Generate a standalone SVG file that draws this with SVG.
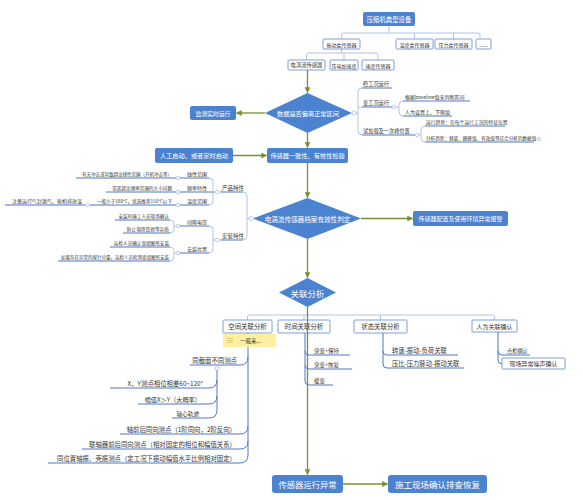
<svg xmlns="http://www.w3.org/2000/svg" width="583" height="500" viewBox="0 0 583 500">
<defs>
<marker id="arr" viewBox="0 0 10 10" refX="9" refY="5" markerWidth="4.5" markerHeight="4.5" orient="auto"><path d="M0,0 L10,5 L0,10 z" fill="#7a8f2e"/></marker>
</defs>
<style>
text{font-family:"Noto Sans CJK SC","Noto Sans",sans-serif;}
.bn{fill:#4b83d0;}
.wt{fill:#fff;text-anchor:middle;dominant-baseline:central;}
.ob{fill:#fff;stroke:#7d9fd6;stroke-width:1;}
.bt{fill:#333;text-anchor:middle;dominant-baseline:central;}
.arrow{stroke:#7a8f2e;stroke-width:1.3;fill:none;marker-end:url(#arr);}
.con{stroke:#a9bde0;stroke-width:0.9;fill:none;}
.ul{stroke:#5079c2;stroke-width:1;fill:none;}
.mt{fill:#333;}
.e{text-anchor:end;}
.dot{fill:#fff;stroke:#9fb6dc;stroke-width:0.7;}
</style>
<rect width="583" height="500" fill="#fff"/>

<g id="connectors">
<path class="con" d="M389,26 V33 M341.5,39 V35 Q341.5,33 343.5,33 H478 Q480,33 480,35 V39 M414.5,33 V39 M453.5,33 V39"/>
<path class="con" d="M341.5,49 V53 M306.5,60 V55 Q306.5,53 308.5,53 H376 Q378,53 378,55 V60 M344,53 V60"/>
<path class="arrow" d="M307.5,70 V92.5"/>
<path class="arrow" d="M265,113 H236.5"/>
<path class="arrow" d="M307.5,133 V147.5"/>
<path class="arrow" d="M233,155.5 H266.5"/>
<path class="arrow" d="M307.5,163 V197.5"/>
<path class="arrow" d="M361,218.5 H412.5"/>
<path class="arrow" d="M307.5,239 V277.5"/>
<path class="con" d="M307.5,307 V315 M247.5,320 V317 Q247.5,315 249.5,315 H492.5 Q494.5,315 494.5,317 V320 M304,315 V320 M380.5,315 V320"/>
<path class="arrow" d="M343,484 H387.5"/>
</g>

<g id="n-top"><rect class="bn" x="363" y="12" width="52" height="14" rx="2"/><text class="wt" x="389" y="19" font-size="6.4">压缩机典型设备</text></g>
<g id="n-vib"><rect class="ob" x="323" y="39" width="37" height="10" rx="1"/><text class="bt" x="341.5" y="44" font-size="5">振动类传感器</text></g>
<g id="n-temp"><rect class="ob" x="396" y="39" width="37" height="10" rx="1"/><text class="bt" x="414.5" y="44" font-size="5">温度类传感器</text></g>
<g id="n-pres"><rect class="ob" x="435" y="39" width="37" height="10" rx="1"/><text class="bt" x="453.5" y="44" font-size="5">压力类传感器</text></g>
<g id="n-more"><rect class="ob" x="476" y="39" width="15" height="10" rx="1"/><text class="bt" x="483.5" y="44" font-size="5">......</text></g>
<g id="n-eddy"><rect class="ob" x="288" y="60" width="37" height="10" rx="1"/><text class="bt" x="306.5" y="65" font-size="5.3">电涡流传感器</text></g>
<g id="n-acc"><rect class="ob" x="330" y="60" width="28" height="10" rx="1"/><text class="bt" x="344" y="65" font-size="5">压电加速度</text></g>
<g id="n-vel"><rect class="ob" x="362" y="60" width="32" height="10" rx="1"/><text class="bt" x="378" y="65" font-size="5">速度传感器</text></g>

<g id="n-d1"><polygon class="bn" points="265,113 307.5,93 352,113 307.5,133"/><text class="wt" x="308" y="113" font-size="6.2">数据是否偏离正常区间</text></g>
<g id="n-monitor"><rect class="bn" x="190" y="106" width="46" height="14" rx="2"/><text class="wt" x="213" y="113" font-size="5.8">监测实时运行</text></g>

<g id="n-d1-map">
<circle class="dot" cx="354" cy="113" r="2"/>
<path class="con" d="M356,113 H358 M358,92 V131 M358,92 Q358,88 362,88 M358,107 H362 M358,131 Q358,135 362,135"/>
<path class="ul" d="M362,88 H392 M362,107 H392 M362,135 H415"/>
<text class="mt" x="363" y="86" font-size="5.2">稳工况运行</text>
<text class="mt" x="363" y="105" font-size="5.2">变工况运行</text>
<text class="mt" x="363" y="133" font-size="5.2">试加载及一次峰位置</text>
<circle class="dot" cx="394" cy="107" r="1.8"/>
<path class="con" d="M396,107 H399 M399,105 V112 M399,105 Q399,101 403,101 M399,112 Q399,116 403,116"/>
<path class="ul" d="M403,101 H470 M403,116 H452"/>
<text class="mt" x="405" y="99" font-size="5">根据baseline值来判断区间</text>
<text class="mt" x="405" y="114" font-size="5">人为设置上、下限值</text>
<circle class="dot" cx="417" cy="135" r="1.8"/>
<path class="con" d="M419,135 H421 M421,130 V138 M421,130 Q421,126 425,126 M421,138 Q421,142 425,142"/>
<path class="ul" d="M425,126 H505 M425,142 H534"/>
<text class="mt" x="426" y="124" font-size="4.8">运行趋势：在每个运行工况的特征位置</text>
<text class="mt" x="426" y="140" font-size="4.6">分析趋势：频谱、峰峰值、有效值等综合分析的数据值</text>
<circle class="dot" cx="539" cy="139" r="1.6"/>
</g>

<g id="n-start"><rect class="bn" x="155" y="148" width="78" height="15" rx="2"/><text class="wt" x="194" y="155.5" font-size="6.2">人工启动、或者定时启动</text></g>
<g id="n-check"><rect class="bn" x="267" y="148" width="81" height="15" rx="2"/><text class="wt" x="307.5" y="155.5" font-size="6.2">传感器一致性、有效性检验</text></g>

<g id="n-d2"><polygon class="bn" points="253,218.5 307.5,198 361,218.5 307.5,239"/><text class="wt" x="307.5" y="218.5" font-size="6.6">电涡流传感器档案有效性判定</text></g>
<g id="n-alarm"><rect class="bn" x="413" y="211" width="95" height="15" rx="2"/><text class="wt" x="460.5" y="218.5" font-size="6">传感器配置及使用环境异常报警</text></g>

<g id="n-d2-map">
<circle class="dot" cx="251" cy="218.5" r="2"/>
<path class="con" d="M249,218.5 H247 M247,196 V236 M247,196 Q247,192 243,192 M247,236 Q247,240 243,240"/>
<path class="ul" d="M243,192 H220 M243,240 H220"/>
<text class="mt" x="222" y="190" font-size="5.5">产品特性</text>
<text class="mt" x="222" y="238" font-size="5.5">安装特性</text>
<circle class="dot" cx="217" cy="192" r="1.8"/>
<circle class="dot" cx="217" cy="240" r="1.8"/>
<path class="con" d="M215,192 H213 M213,182 V201 M213,182 Q213,178 209,178 M213,201 Q213,205 209,205 M213,230 V249 M215,240 H213 M213,230 Q213,226 209,226 M213,249 Q213,253 209,253"/>
<path class="ul" d="M209,178 H180 M213,192 H180 M209,205 H180 M209,226 H180 M209,253 H180"/>
<text class="mt e" x="207" y="176" font-size="5">线性范围</text>
<text class="mt e" x="207" y="190" font-size="5">频率特性</text>
<text class="mt e" x="207" y="203" font-size="5">温度范围</text>
<text class="mt e" x="207" y="224" font-size="5">间隙电压</text>
<text class="mt e" x="207" y="251" font-size="5">安装位置</text>
<circle class="dot" cx="178" cy="178" r="1.8"/>
<circle class="dot" cx="178" cy="192" r="1.8"/>
<circle class="dot" cx="178" cy="205" r="1.8"/>
<circle class="dot" cx="178" cy="226" r="1.8"/>
<circle class="dot" cx="178" cy="253" r="1.8"/>
<path class="ul" d="M176,178 H76 M176,192 H106 M176,205 H90 M85,205 H5"/>
<circle class="dot" cx="87.5" cy="205" r="1.8"/>
<text class="mt e" x="172" y="176" font-size="4.5">有无冲击或导致超出线性范围（开机冲击等）</text>
<text class="mt e" x="172" y="190" font-size="4.6">带宽超出频率范围的大小问题</text>
<text class="mt e" x="172" y="203" font-size="4.6">一般小于180°C，优选推荐150°C以下</text>
<text class="mt e" x="82" y="203" font-size="5">注意运行气封漏气、轮机排放温</text>
<path class="con" d="M176,226 H174 M174,224 V229 M174,224 Q174,220 170,220 M174,229 Q174,233 170,233 M176,253 H174 M174,251 V257 M174,251 Q174,247 170,247 M174,257 Q174,261 170,261"/>
<path class="ul" d="M170,220 H115 M170,233 H123 M170,247 H110 M170,261 H58"/>
<text class="mt e" x="169" y="218" font-size="4.6">安装时施工人员现场确认</text>
<text class="mt e" x="169" y="231" font-size="4.7">防止现场铁屑等杂质</text>
<text class="mt e" x="169" y="245" font-size="4.6">运检人员确认查阅图纸安装</text>
<text class="mt e" x="169" y="259" font-size="4.5">如果存在异常的探针分量，运检人员检测查阅图纸安装</text>
</g>

<g id="n-d3"><polygon class="bn" points="279,292.5 307.5,278 336,292.5 307.5,307"/><text class="wt" x="307.5" y="292.5" font-size="8.5">关联分析</text></g>

<g id="n-space"><rect class="ob" x="223" y="320" width="49" height="13" rx="1"/><text class="bt" x="247.5" y="326.5" font-size="6.4">空间关联分析</text></g>
<g id="n-time"><rect class="ob" x="278" y="320" width="52" height="13" rx="1"/><text class="bt" x="304" y="326.5" font-size="6.4">时间关联分析</text></g>
<g id="n-state"><rect class="ob" x="354" y="320" width="53" height="13" rx="1"/><text class="bt" x="380.5" y="326.5" font-size="6.4">状态关联分析</text></g>
<g id="n-human"><rect class="ob" x="472" y="320" width="45" height="12" rx="1"/><text class="bt" x="494.5" y="326" font-size="6">人为关联确认</text></g>

<g id="n-space-map">
<path class="ul" d="M248,333 V455 Q248,463 240,463 H48 M248,357 Q248,365 240,365 H190 M248,426 Q248,434 240,434 H120 M248,441 Q248,449 240,449 H82"/>
<text class="mt e" x="237" y="363" font-size="6.4">同截面不同测点</text>
<circle class="dot" cx="217" cy="368.5" r="2"/>
<path class="ul" d="M217,370.5 V410 Q217,418 209,418 H172 M217,380 Q217,388 209,388 H110 M217,396 Q217,404 209,404 H138"/>
<text class="mt e" x="203" y="386" font-size="6.4">X、Y测点相位相差60~120°</text>
<text class="mt e" x="201" y="402" font-size="6.2">幅值X＞Y（大概率）</text>
<text class="mt e" x="199" y="416" font-size="5.6">轴心轨迹</text>
<text class="mt e" x="236" y="432" font-size="6.4">轴前后同向测点（1阶同向，2阶反向）</text>
<text class="mt e" x="236" y="447" font-size="6.4">联轴器前后同向测点（相对固定的相位和幅值关系）</text>
<text class="mt e" x="236" y="461" font-size="6.4">同位置轴振、壳振测点（定工况下振动幅值水平比例相对固定）</text>
</g>
<g id="n-note"><rect x="223" y="334" width="53" height="13" fill="#fcf0a0"/><path d="M227,338.5 H233 M227,340.5 H233 M227,342.5 H233" stroke="#c9b85a" stroke-width="0.6"/><text class="mt" x="240" y="343" font-size="5.5">一般来...</text></g>

<g id="n-time-map">
<path class="ul" d="M305,333 V381 Q305,385 309,385 H333 M305,351 Q305,355 309,355 H350 M305,365 Q305,369 309,369 H352"/>
<text class="mt" x="314" y="353" font-size="5.5">突变+保持</text>
<text class="mt" x="314" y="367" font-size="5.5">突变+恢复</text>
<text class="mt" x="314" y="383" font-size="5.5">缓变</text>
</g>
<g id="n-state-map">
<path class="ul" d="M383,333 V364 Q383,368 387,368 H464 M383,351 Q383,355 387,355 H458"/>
<text class="mt" x="392" y="353" font-size="6.3">转速-振动-负荷关联</text>
<text class="mt" x="392" y="366" font-size="6.3">压比-压力脉动-振动关联</text>
</g>
<g id="n-human-map">
<path class="ul" d="M498,332 V360 Q498,364 502,364 M498,351 Q498,355 502,355 H530"/>
<text class="mt" x="507" y="353" font-size="5.2">点检确认</text>
<rect class="ob" x="502" y="358" width="63" height="11" rx="1"/>
<text class="bt" x="533.5" y="363.5" font-size="6">现场异常噪声确认</text>
</g>

<g id="n-fault"><rect class="bn" x="272" y="475" width="71" height="18" rx="3"/><text class="wt" x="307.5" y="484" font-size="8.3">传感器运行异常</text></g>
<g id="n-fix"><rect class="bn" x="388" y="475" width="99" height="18" rx="3"/><text class="wt" x="437.5" y="484" font-size="8.5">施工现场确认排查恢复</text></g>

<g id="main-line"><path class="arrow" d="M307.5,307 V474.5"/></g>
</svg>
